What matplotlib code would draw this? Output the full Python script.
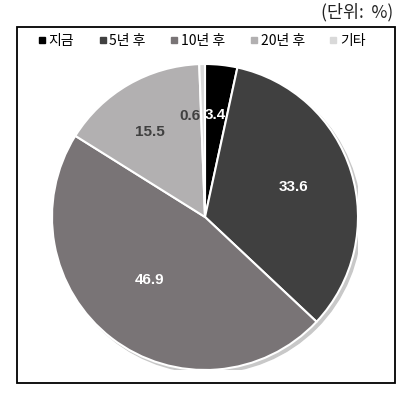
import numpy as np
import matplotlib
matplotlib.use("Agg")
import matplotlib.pyplot as plt
from matplotlib.patches import Rectangle, Circle
from matplotlib.lines import Line2D

# 데이터
labels = ["지금", "5년 후", "10년 후", "20년 후", "기타"]
values = [3.4, 33.6, 46.9, 15.5, 0.6]
colors = ["#000000", "#404040", "#797476", "#b2b0b1", "#d9d9d9"]
text_colors = ["white", "white", "white", "#404040", "#404040"]

# 라벨 위치 (반지름 비율, 각도 보정)
label_r = [0.67, 0.61, 0.55, 0.66, 0.67]
label_dang = [0.6, 1.7, -3.5, 2.8, 7.3]

fig = plt.figure(figsize=(4.2, 4.03), dpi=100)

# 바깥 테두리
fig.patches.append(Rectangle((17 / 420, 1 - 383 / 403), (395 - 17) / 420, (383 - 27) / 403,
                             transform=fig.transFigure, fill=False, edgecolor="black", linewidth=1.3))

fig.text(393 / 420, 1 - 12 / 403, "(단위:  %)", ha="right", va="center", fontsize=12.5,
         family=["Noto Sans CJK KR", "DejaVu Sans"], color="#222222")

ax = fig.add_axes([(205 - 153) / 420, 1 - (217 + 153) / 403, 306 / 420, 306 / 403])

# 그림자
ax.add_patch(Circle((0.02, -0.02), 1.0, color="#c8c8c8", zorder=0))

wedges, _ = ax.pie(values, colors=colors, startangle=90, counterclock=False,
                   wedgeprops=dict(edgecolor="white", linewidth=1.5), radius=1.0)
for w in wedges:
    w.set_zorder(1)

for i, w in enumerate(wedges):
    ang = np.deg2rad((w.theta1 + w.theta2) / 2 + label_dang[i])
    x = label_r[i] * np.cos(ang)
    y = label_r[i] * np.sin(ang)
    ax.text(x, y, f"{values[i]}", ha="center", va="center", fontsize=11, fontweight="bold",
            family="Liberation Sans", color=text_colors[i], zorder=3)

ax.set_xlim(-1.0, 1.0)
ax.set_ylim(-1.0, 1.0)
ax.set_aspect("equal")
ax.axis("off")

handles = [Line2D([], [], marker="s", linestyle="", markersize=4, color=c) for c in colors]
fig.legend(handles, labels, loc="center", bbox_to_anchor=(202 / 420, 1 - 41 / 403), ncol=5,
           frameon=False, handlelength=0.5, handletextpad=0.25, columnspacing=1.8,
           prop=dict(family=["Noto Sans CJK KR", "DejaVu Sans"], size=10))

fig.savefig("out.png", dpi=100)
